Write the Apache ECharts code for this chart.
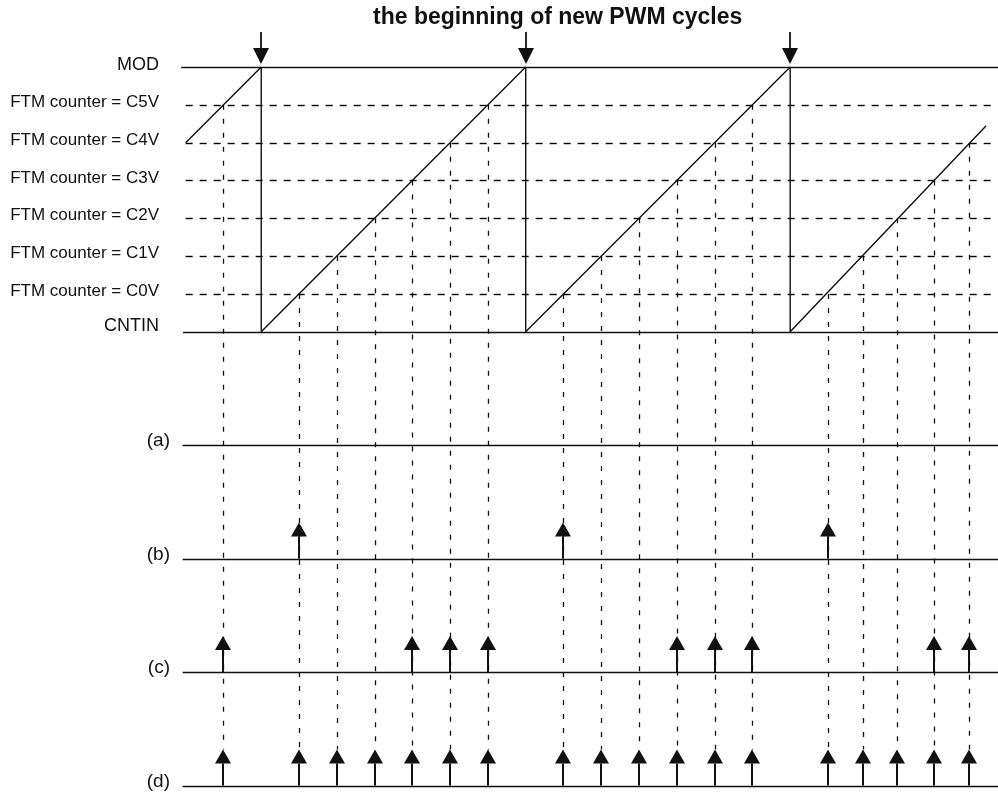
<!DOCTYPE html>
<html><head><meta charset="utf-8">
<script src="https://cdn.jsdelivr.net/npm/echarts@6/dist/echarts.min.js"></script>
<style>html,body{margin:0;padding:0;background:#fff}#c{width:998px;height:793px}</style>
</head><body><div id="c"></div>
<script>
// ---- data (time units: one unit = one compare step; level units: CNTIN = 0 ... MOD = 7)
const titleText = 'the beginning of new PWM cycles';
const levelNames  = ['CNTIN', 'FTM counter = C0V', 'FTM counter = C1V', 'FTM counter = C2V', 'FTM counter = C3V', 'FTM counter = C4V', 'FTM counter = C5V', 'MOD'];
const levelValues = [0, 1, 2, 3, 4, 5, 6, 7];
const rowNames  = ['(a)', '(b)', '(c)', '(d)'];
const rowValues = [-3, -6, -9, -12];
// FTM counter sawtooth vertices
const sawTime  = [-2, 0, 0, 7, 7, 14, 14, 19.18];
const sawLevel = [5, 7, 0, 7, 0, 7, 0, 5.44];
// beginnings of new PWM cycles
const cycleStarts = [0, 7, 14];
// counter = CnV matches (time, level)
const matchTime  = [-1, 1, 2, 3, 4, 5, 6, 8, 9, 10, 11, 12, 13, 15.0, 15.93, 16.83, 17.81, 18.73];
const matchLevel = [6, 1, 2, 3, 4, 5, 6, 1, 2, 3, 4, 5, 6, 1, 2, 3, 4, 5];
// event arrows per row
const rowAEvents = [];
const rowBEvents = [1, 8, 15.0];
const rowCEvents = [-1, 4, 5, 6, 11, 12, 13, 17.81, 18.73];
const rowDEvents = [-1, 1, 2, 3, 4, 5, 6, 8, 9, 10, 11, 12, 13, 15.0, 15.93, 16.83, 17.81, 18.73];

// ---- chart
const X_MIN = -2.15, X_MAX = 19.5;
const FONT = 'Liberation Sans, Arial, Helvetica, sans-serif';
const INK = '#111';

const hLines = [];
levelValues.forEach(v => {
  const solid = (v === 0 || v === 7);
  hLines.push({ value: [solid ? (v === 7 ? -2.12 : -2.07) : -2.0, solid ? X_MAX : 19.37, v], dashed: !solid });
});
rowValues.forEach(v => hLines.push({ value: [-2.08, X_MAX, v], dashed: false }));

const arrowData = [];
[rowAEvents, rowBEvents, rowCEvents, rowDEvents].forEach((ev, i) => ev.forEach(t => arrowData.push([t, rowValues[i]])));

const chart = echarts.init(document.getElementById('c'), null, { renderer: 'canvas' });
chart.setOption({
  animation: false,
  backgroundColor: '#fff',
  title: {
    text: titleText, left: 368, top: 1,
    textStyle: { fontFamily: FONT, fontWeight: 'bold', fontSize: 23, color: INK }
  },
  grid: { left: 180, right: 0, top: 67, bottom: 7.5 },
  xAxis: { type: 'value', min: X_MIN, max: X_MAX, show: false },
  yAxis: { type: 'value', min: -12, max: 7, show: false },
  series: [
    { // horizontal level and row lines
      type: 'custom', clip: false, data: hLines, encode: { x: [0, 1], y: 2 }, z: 1,
      renderItem: (params, api) => {
        const a = api.coord([api.value(0), api.value(2)]);
        const b = api.coord([api.value(1), api.value(2)]);
        const d = hLines[params.dataIndex].dashed;
        return { type: 'line', shape: { x1: a[0], y1: Math.round(a[1]) + 0.5, x2: b[0], y2: Math.round(b[1]) + 0.5 },
          style: d ? { stroke: '#000', lineWidth: 1.4, lineDash: [7, 7] } : { stroke: INK, lineWidth: 1.5 } };
      }
    },
    { // vertical dashed projection lines
      type: 'custom', clip: false, data: matchTime.map((t, i) => [t, matchLevel[i]]), z: 2,
      renderItem: (params, api) => {
        const a = api.coord([api.value(0), api.value(1)]);
        const b = api.coord([api.value(0), rowValues[3]]);
        const x = Math.round(a[0]) + 0.5;
        return { type: 'line', shape: { x1: x, y1: a[1], x2: x, y2: b[1] - 36 },
          style: { stroke: '#111', lineWidth: 1.3, lineDash: [5, 9] } };
      }
    },
    { // FTM counter sawtooth
      type: 'line', data: sawTime.map((t, i) => [t, sawLevel[i]]), symbol: 'none', z: 3,
      lineStyle: { color: INK, width: 1.4 }
    },
    { // event arrows
      type: 'custom', clip: false, data: arrowData, z: 4,
      renderItem: (params, api) => {
        const p = api.coord([api.value(0), api.value(1)]);
        const x = Math.round(p[0]), y = p[1];
        return { type: 'group', children: [
          { type: 'line', shape: { x1: x, y1: y, x2: x, y2: y - 22 }, style: { stroke: INK, lineWidth: 2 } },
          { type: 'polygon', shape: { points: [[x - 8, y - 22], [x + 8, y - 22], [x, y - 36]] }, style: { fill: INK } }
        ] };
      }
    },
    { // cycle-start arrows
      type: 'custom', clip: false, data: cycleStarts.map(t => [t, 7]), z: 4,
      renderItem: (params, api) => {
        const p = api.coord([api.value(0), api.value(1)]);
        const x = Math.round(p[0]), y = p[1];
        return { type: 'group', children: [
          { type: 'line', shape: { x1: x, y1: y - 35, x2: x, y2: y - 18 }, style: { stroke: INK, lineWidth: 1.8 } },
          { type: 'polygon', shape: { points: [[x - 8, y - 19], [x + 8, y - 19], [x, y - 3]] }, style: { fill: INK } }
        ] };
      }
    },
    { // level labels
      type: 'custom', clip: false, data: levelValues.map(v => [X_MIN, v]), z: 5,
      renderItem: (params, api) => {
        const v = api.value(1);
        const p = api.coord([X_MIN, v]);
        const edge = (v === 0 || v === 7);
        const dy = v === 0 ? -6 : (v === 7 ? -1.5 : -2.5);
        return { type: 'text', style: { text: levelNames[params.dataIndex], x: p[0] - 21, y: p[1] + dy,
          align: 'right', verticalAlign: 'middle', fontFamily: FONT, fontSize: edge ? 18 : 17, fill: INK } };
      }
    },
    { // row labels
      type: 'custom', clip: false, data: rowValues.map(v => [X_MIN, v]), z: 5,
      renderItem: (params, api) => {
        const p = api.coord([X_MIN, api.value(1)]);
        return { type: 'text', style: { text: rowNames[params.dataIndex], x: p[0] - 10, y: p[1] - 4,
          align: 'right', verticalAlign: 'middle', fontFamily: FONT, fontSize: 19, fill: INK } };
      }
    }
  ]
});
</script></body></html>
